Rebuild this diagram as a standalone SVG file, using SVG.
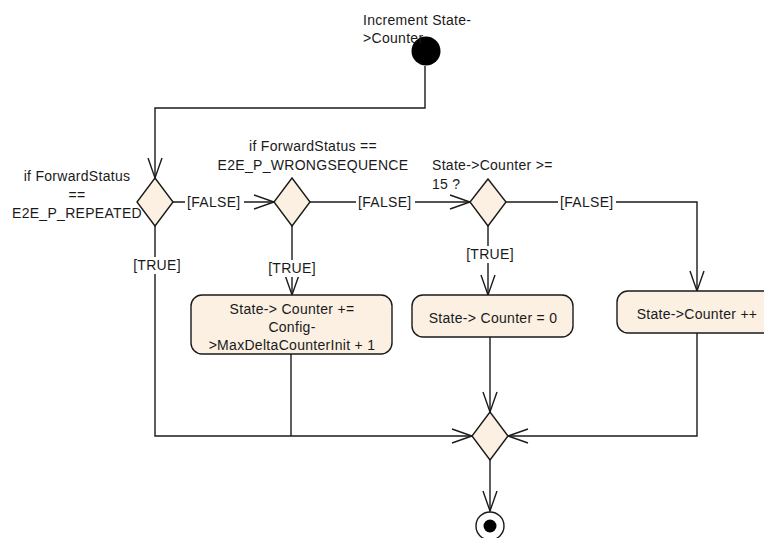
<svg xmlns="http://www.w3.org/2000/svg" width="764" height="538" viewBox="0 0 764 538">
<style>
text{font-family:"Liberation Sans",Arial,sans-serif;font-size:14px;letter-spacing:0.3px;fill:#1a1a1a}
.m{text-anchor:middle}
.node{fill:#FBF0E2;stroke:#1a1a1a;stroke-width:1.4}
.edge{fill:none;stroke:#1a1a1a;stroke-width:1.4}
.bg{fill:#ffffff}
</style>
<defs>
<marker id="arr" markerUnits="userSpaceOnUse" markerWidth="24" markerHeight="18" refX="0" refY="0" viewBox="-22 -9 24 18" orient="auto" overflow="visible">
<path d="M-20,-7 L0,0 L-20,7" fill="none" stroke="#1a1a1a" stroke-width="1.4"/>
</marker>
</defs>
<rect width="764" height="538" fill="#ffffff"/>
<g id="connectors">
<path class="edge" d="M425,66 V108 H155 V178" marker-end="url(#arr)"/>
<path class="edge" d="M173,202 H274" marker-end="url(#arr)"/>
<path class="edge" d="M310,202 H470" marker-end="url(#arr)"/>
<path class="edge" d="M506,202 H697 V291" marker-end="url(#arr)"/>
<path class="edge" d="M292,226 V295" marker-end="url(#arr)"/>
<path class="edge" d="M488,226 V295" marker-end="url(#arr)"/>
<path class="edge" d="M155,226 V436 H472" marker-end="url(#arr)"/>
<path class="edge" d="M291,354 V436"/>
<path class="edge" d="M490,337 V412" marker-end="url(#arr)"/>
<path class="edge" d="M697,333 V436 H508" marker-end="url(#arr)"/>
<path class="edge" d="M490,460 V511" marker-end="url(#arr)"/>
<rect class="bg" x="185" y="194" width="59" height="16"/>
<text x="187" y="207">[FALSE]</text>
<rect class="bg" x="356" y="194" width="59" height="16"/>
<text x="358" y="207">[FALSE]</text>
<rect class="bg" x="558" y="194" width="58" height="16"/>
<text x="560" y="207">[FALSE]</text>
<rect class="bg" x="130" y="257" width="55" height="17"/>
<text class="m" x="157" y="270">[TRUE]</text>
<rect class="bg" x="266" y="260" width="53" height="17"/>
<text class="m" x="292" y="273">[TRUE]</text>
<rect class="bg" x="464" y="246" width="53" height="17"/>
<text class="m" x="490" y="259">[TRUE]</text>
</g>
<g id="start">
<circle cx="426" cy="51" r="14.5" fill="#000000"/>
<text x="363" y="25">Increment State-</text>
<text x="363" y="43">&gt;Counter</text>
</g>
<g id="decision1">
<polygon class="node" points="155,178 173,202 155,226 137,202"/>
<text class="m" x="77" y="181">if ForwardStatus</text>
<text class="m" x="77" y="199.5">==</text>
<text class="m" x="77" y="218">E2E_P_REPEATED</text>
</g>
<g id="decision2">
<polygon class="node" points="292,178 310,202 292,226 274,202"/>
<text class="m" x="313" y="151">if ForwardStatus ==</text>
<text class="m" x="313" y="170">E2E_P_WRONGSEQUENCE</text>
</g>
<g id="decision3">
<polygon class="node" points="488,179 506,202 488,226 470,202"/>
<text x="432" y="170">State-&gt;Counter &gt;=</text>
<text x="432" y="189">15 ?</text>
</g>
<g id="action1">
<rect class="node" x="191" y="295" width="201" height="59" rx="11"/>
<text class="m" x="292" y="314">State-&gt; Counter +=</text>
<text class="m" x="292" y="332">Config-</text>
<text class="m" x="292" y="350">&gt;MaxDeltaCounterInit + 1</text>
</g>
<g id="action2">
<rect class="node" x="412" y="295" width="161" height="42" rx="11"/>
<text class="m" x="493" y="323">State-&gt; Counter = 0</text>
</g>
<g id="action3">
<rect class="node" x="617" y="291" width="160" height="42" rx="11"/>
<text class="m" x="697" y="319">State-&gt;Counter ++</text>
</g>
<g id="merge">
<polygon class="node" points="490,412 508,436 490,460 472,436"/>
</g>
<g id="final">
<circle cx="490" cy="526" r="14" fill="#ffffff" stroke="#1a1a1a" stroke-width="1.4"/>
<circle cx="490" cy="526" r="6.5" fill="#000000"/>
</g>
</svg>
